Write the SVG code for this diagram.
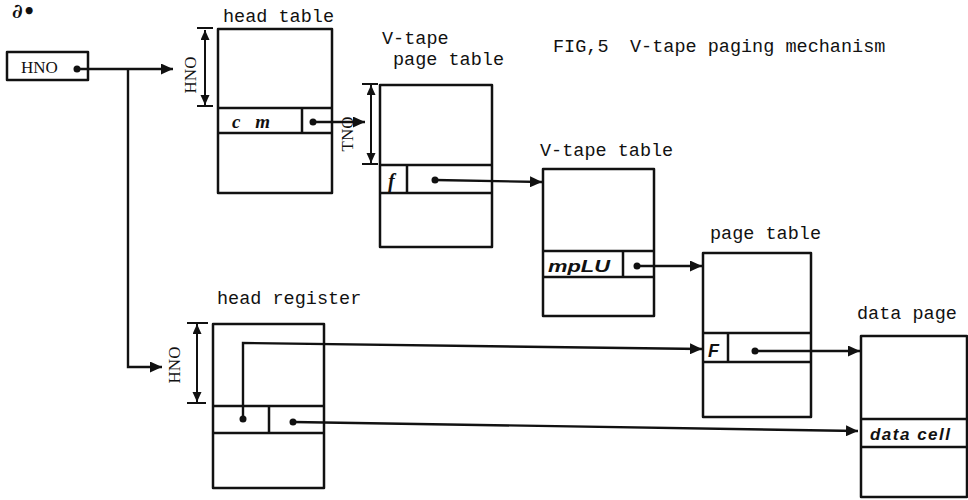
<svg xmlns="http://www.w3.org/2000/svg" width="968" height="500" viewBox="0 0 968 500">
<style>
.bx{fill:none;stroke:#111;stroke-width:2.5;stroke-linejoin:round}
.ln{fill:none;stroke:#111;stroke-width:2.4}
.dm{fill:none;stroke:#111;stroke-width:2}
.lbl{font-family:"Liberation Mono",monospace;font-size:18.5px;fill:#111}
.ser{font-family:"Liberation Serif",serif;font-size:17px;fill:#111}
.hw{font-family:"Liberation Sans",sans-serif;font-style:italic;font-weight:bold;fill:#111}
.dot{fill:#111}
</style>
<defs>
<marker id="ah" markerUnits="userSpaceOnUse" markerWidth="14" markerHeight="11" refX="12" refY="5.5" orient="auto"><path d="M0,0 L12,5.5 L0,11 z" fill="#111"/></marker>
<marker id="dh" markerUnits="userSpaceOnUse" markerWidth="12" markerHeight="10" refX="10" refY="4.5" orient="auto-start-reverse"><path d="M0,0 L10,4.5 L0,9 z" fill="#111"/></marker>
</defs>
<rect width="968" height="500" fill="#fff"/>
<text x="12" y="18" style="font-family:'DejaVu Serif',serif;font-size:20px;font-style:italic;font-weight:bold;fill:#111">∂•</text>
<g id="title">
<text class="lbl" x="553" y="52">FIG,5</text>
<text class="lbl" x="630" y="52">V-tape paging mechanism</text>
</g>
<g id="hno">
<rect class="bx" x="7" y="52" width="81" height="28"/>
<text class="ser" x="21" y="73">HNO</text>
<circle class="dot" cx="77" cy="69" r="3.5"/>
</g>
<g id="head-table">
<text class="lbl" x="223" y="22">head table</text>
<rect class="bx" x="218" y="29" width="114" height="164"/>
<path class="bx" d="M218,108 H332 M218,133 H332 M302,108 V133"/>
<text class="hw" x="232" y="128" style="font-size:19px;font-family:'Liberation Serif',serif" textLength="38">c m</text>
<circle class="dot" cx="313" cy="122" r="3.5"/>
<path class="dm" d="M205,30 V105" marker-start="url(#dh)" marker-end="url(#dh)"/>
<path class="dm" d="M197,28 H213 M197,106 H213"/>
<text class="ser" transform="translate(196,75) rotate(-90)" text-anchor="middle">HNO</text>
</g>
<g id="vtape-page-table">
<text class="lbl" x="382" y="44">V-tape</text>
<text class="lbl" x="393" y="65">page table</text>
<rect class="bx" x="380" y="85" width="112" height="162"/>
<path class="bx" d="M380,165 H492 M380,193 H492 M407,165 V193"/>
<text x="388" y="188" style="font-family:'Liberation Serif',serif;font-size:20px;font-style:italic;font-weight:bold;fill:#111">f</text>
<circle class="dot" cx="435" cy="180" r="3.5"/>
<path class="dm" d="M371,85 V163" marker-start="url(#dh)" marker-end="url(#dh)"/>
<path class="dm" d="M362,84 H378 M362,164 H378"/>
<text class="ser" transform="translate(353,134) rotate(-90)" text-anchor="middle">TNO</text>
</g>
<g id="vtape-table">
<text class="lbl" x="540" y="156">V-tape table</text>
<rect class="bx" x="543" y="169" width="111" height="147"/>
<path class="bx" d="M543,251 H654 M543,277 H654 M623,251 V277"/>
<text class="hw" x="548" y="272" style="font-size:17px" textLength="62" lengthAdjust="spacingAndGlyphs">mpLU</text>
<circle class="dot" cx="637" cy="266" r="3.5"/>
</g>
<g id="page-table">
<text class="lbl" x="710" y="239">page table</text>
<rect class="bx" x="703" y="253" width="108" height="164"/>
<path class="bx" d="M703,333 H811 M703,362 H811 M728,333 V362"/>
<text class="hw" x="708" y="357" style="font-size:18px">F</text>
<circle class="dot" cx="755" cy="351" r="3.5"/>
</g>
<g id="head-register">
<text class="lbl" x="217" y="304">head register</text>
<rect class="bx" x="213" y="324" width="111" height="164"/>
<path class="bx" d="M213,406 H324 M213,433 H324 M269,406 V433"/>
<circle class="dot" cx="243" cy="419" r="3.5"/>
<circle class="dot" cx="293" cy="422" r="3.5"/>
<path class="dm" d="M197,324 V402" marker-start="url(#dh)" marker-end="url(#dh)"/>
<path class="dm" d="M187,323 H208 M187,403 H206"/>
<text class="ser" transform="translate(180,365) rotate(-90)" text-anchor="middle">HNO</text>
</g>
<g id="data-page">
<text class="lbl" x="857" y="319">data page</text>
<rect class="bx" x="861" y="336" width="106" height="161"/>
<path class="bx" d="M861,419 H967 M861,447 H967"/>
<text class="hw" x="870" y="440" style="font-size:17px" textLength="80">data cell</text>
</g>
<g id="connectors">
<path class="ln" d="M77,69 H173" marker-end="url(#ah)"/>
<path class="ln" d="M128,70 V367 H162" marker-end="url(#ah)"/>
<path class="ln" d="M313,122 H365" marker-end="url(#ah)"/>
<path class="ln" d="M435,180 L542,182" marker-end="url(#ah)"/>
<path class="ln" d="M637,266 H702" marker-end="url(#ah)"/>
<path class="ln" d="M755,351 H860" marker-end="url(#ah)"/>
<path class="ln" d="M243,419 V343 L702,349" marker-end="url(#ah)"/>
<path class="ln" d="M293,422 L858,431" marker-end="url(#ah)"/>
</g>
</svg>
